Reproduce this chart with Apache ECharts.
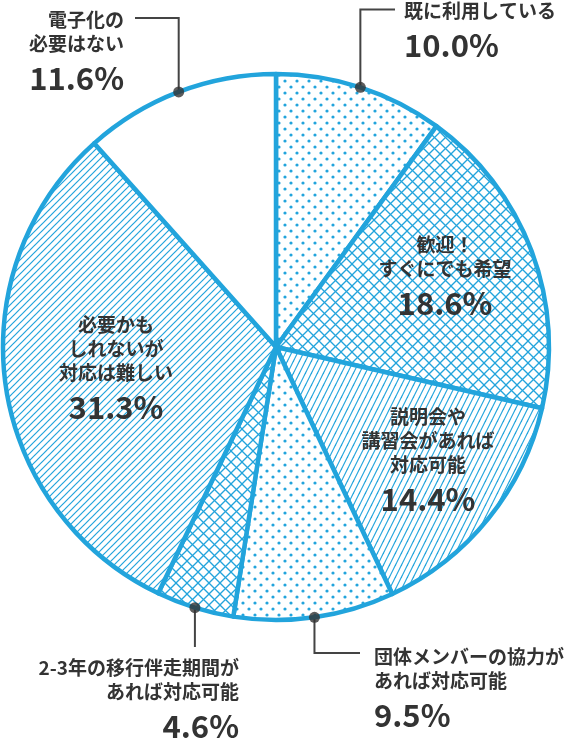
<!DOCTYPE html>
<html><head><meta charset="utf-8">
<script src="https://cdn.jsdelivr.net/npm/echarts@6/dist/echarts.min.js"></script>
<style>html,body{margin:0;padding:0;background:#fff}#c{width:572px;height:740px}</style>
</head><body><div id="c"></div>
<script>
// ---- data ----
const categories = [
  '既に利用している',
  '歓迎！\nすぐにでも希望',
  '説明会や\n講習会があれば\n対応可能',
  '団体メンバーの協力が\nあれば対応可能',
  '2-3年の移行伴走期間が\nあれば対応可能',
  '必要かも\nしれないが\n対応は難しい',
  '電子化の\n必要はない'
];
const values = [10.0, 18.6, 14.4, 9.5, 4.6, 31.3, 11.6];
const outsideIdx = [0, 3, 4, 6];

// ---- style / layout ----
const BLUE = '#22a4dc';
const TEXT = '#333333';
const FONT = '"Noto Sans CJK JP", "Noto Sans", sans-serif';
const CX = 276, CY = 347, R = 273;
const fills = ['dots', 'cross', 'steep', 'dots', 'cross', 'diag', 'none'];
const labelPos = [
  {x: 404, y: -1, align: 'left', line: {y: 9.5, x: 395}},
  {x: 445, y: 233, align: 'center'},
  {x: 428, y: 405, align: 'center'},
  {x: 374, y: 645, align: 'left', line: {y: 653, x: 360}},
  {x: 239, y: 656, align: 'right', line: {y: 647}},
  {x: 116, y: 313, align: 'center'},
  {x: 124, y: 8, align: 'right', line: {y: 18, x: 135}}
];

function makePattern(type) {
  if (type === 'none') return '#ffffff';
  const c = document.createElement('canvas');
  let ctx;
  if (type === 'dots') {
    c.width = 12; c.height = 12; ctx = c.getContext('2d');
    ctx.fillStyle = '#fff'; ctx.fillRect(0, 0, 12, 12);
    ctx.fillStyle = BLUE;
    [[3, 3], [9, 9]].forEach(p => { ctx.beginPath(); ctx.arc(p[0], p[1], 1.6, 0, Math.PI * 2); ctx.fill(); });
  } else if (type === 'cross') {
    const s = 11;
    c.width = s; c.height = s; ctx = c.getContext('2d');
    ctx.fillStyle = '#fff'; ctx.fillRect(0, 0, s, s);
    ctx.strokeStyle = BLUE; ctx.lineWidth = 1.3;
    for (let k = -s; k <= s; k += s) {
      ctx.beginPath(); ctx.moveTo(k - 2, -2); ctx.lineTo(k + s + 2, s + 2); ctx.stroke();
      ctx.beginPath(); ctx.moveTo(k + s + 2, -2); ctx.lineTo(k - 2, s + 2); ctx.stroke();
    }
  } else if (type === 'steep') {
    const w = 6, h = 12;
    c.width = w; c.height = h; ctx = c.getContext('2d');
    ctx.fillStyle = '#fff'; ctx.fillRect(0, 0, w, h);
    ctx.strokeStyle = BLUE; ctx.lineWidth = 1.2;
    for (let k = -w; k <= w; k += w) {
      ctx.beginPath(); ctx.moveTo(k - 1, h + 2); ctx.lineTo(k + w + 1, -2); ctx.stroke();
    }
  } else if (type === 'diag') {
    const s = 7;
    c.width = s; c.height = s; ctx = c.getContext('2d');
    ctx.fillStyle = '#fff'; ctx.fillRect(0, 0, s, s);
    ctx.strokeStyle = BLUE; ctx.lineWidth = 1.2;
    for (let k = -s; k <= s; k += s) {
      ctx.beginPath(); ctx.moveTo(k - 2, s + 2); ctx.lineTo(k + s + 2, -2); ctx.stroke();
    }
  }
  return {image: c, repeat: 'repeat'};
}

// cumulative mid-angles (in percent) for the leader dots
const mids = [];
let acc = 0;
values.forEach(v => { mids.push(acc + v / 2); acc += v; });
const total = acc;

const pieData = categories.map((name, i) => ({
  name: name,
  value: values[i],
  itemStyle: {color: makePattern(fills[i])},
  label: {position: outsideIdx.includes(i) ? 'outside' : 'inside'},
  labelLine: {show: outsideIdx.includes(i)}
}));

const chart = echarts.init(document.getElementById('c'), null, {renderer: 'canvas'});
chart.setOption({
  animation: false,
  polar: {center: [CX, CY], radius: R},
  angleAxis: {type: 'value', min: 0, max: total, startAngle: 90, clockwise: true, show: false},
  radiusAxis: {type: 'value', min: 0, max: 1, show: false},
  series: [
    {
      type: 'pie',
      center: [CX, CY],
      radius: [0, R],
      startAngle: 90,
      clockwise: true,
      avoidLabelOverlap: false,
      emphasis: {disabled: true},
      itemStyle: {borderColor: BLUE, borderWidth: 4.5},
      label: {
        show: true,
        color: TEXT,
        formatter: p => p.name.split('\n').map(s => '{t|' + s + '}').join('\n') + '\n{p|' + p.value.toFixed(1) + '%}',
        rich: {
          t: {fontSize: 19, lineHeight: 24, fontWeight: 'bold', fontFamily: FONT, color: TEXT},
          p: {fontSize: 31, lineHeight: 44, fontWeight: 'bold', fontFamily: FONT, color: TEXT}
        }
      },
      labelLine: {show: true, smooth: false, lineStyle: {color: '#444', width: 2}},
      labelLayout: function (params) {
        const L = labelPos[params.dataIndex];
        const out = {x: L.x, y: L.y, align: L.align, verticalAlign: 'top'};
        if (L.line && params.labelLinePoints) {
          const p0 = params.labelLinePoints[0];
          const pts = [[p0[0], p0[1]], [p0[0], L.line.y]];
          if (L.line.x != null) pts.push([L.line.x, L.line.y]);
          out.labelLinePoints = pts;
        }
        return out;
      },
      data: pieData
    },
    {
      type: 'scatter',
      coordinateSystem: 'polar',
      symbolSize: 11,
      itemStyle: {color: '#333'},
      emphasis: {disabled: true},
      silent: true,
      z: 5,
      data: outsideIdx.map(i => [1, mids[i]])
    }
  ]
});
</script>
</body></html>
